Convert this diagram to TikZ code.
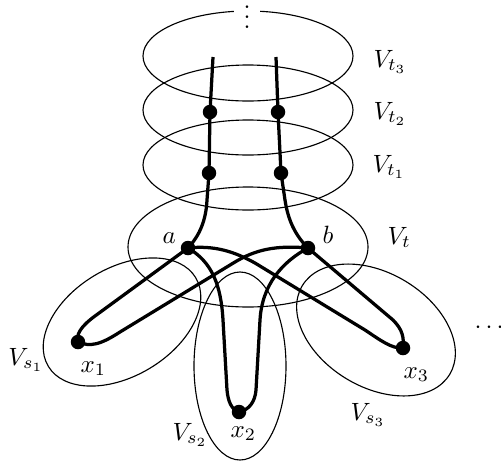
\documentclass[tikz,border=0pt]{standalone}
\begin{document}
\begin{tikzpicture}[x=0.4pt,y=-0.4pt,
  region/.style={line width=0.45pt},
  walk/.style={line width=1.3pt},
  dot/.style={circle,fill=black,inner sep=0pt,minimum size=5.8pt},
  lbl/.style={anchor=base west,inner sep=0pt}]
\useasboundingbox (0,0) rectangle (501,461);
% regions
\draw[region] (248,56) ellipse [x radius=105,y radius=45];
\draw[region] (248,110) ellipse [x radius=105,y radius=45];
\draw[region] (248,165) ellipse [x radius=105,y radius=45];
\draw[region] (248,247) ellipse [x radius=120,y radius=60];
\draw[region,rotate around={31:(122,322)}] (122,322) ellipse [x radius=86,y radius=54];
\draw[region,rotate around={-31:(376,330)}] (376,330) ellipse [x radius=86,y radius=57];
\draw[region] (240,366) ellipse [x radius=46,y radius=94];
\node[fill=white,inner xsep=4pt,inner ysep=0.5pt,text height=9.3pt,text depth=0pt] (vd) at (247,17) {$\vdots$};
% vertices
\node[dot] (a) at (188,248) {};
\node[dot] (b) at (308,248) {};
\node[dot] (a1) at (209,173) {};
\node[dot] (a2) at (210,112) {};
\node[dot] (b1) at (281,173) {};
\node[dot] (b2) at (278,112) {};
\node[dot] (x1) at (78,342) {};
\node[dot] (x2) at (239,412) {};
\node[dot] (x3) at (403,348) {};
\coordinate (ta) at (213,57);
\coordinate (tb) at (276,57);
% paths
\draw[walk] (a.center) .. controls (200,235) and (206,220) .. (207,200) -- (a1.center) -- (a2.center) -- (ta);
\draw[walk] (b.center) .. controls (295,235) and (288,220) .. (285,200) -- (b1.center) -- (b2.center) -- (tb);
\draw[walk] (a.center) -- (95,316) .. controls (80,327) and (76,335) .. (x1.center);
\draw[walk] (b.center) .. controls (275,245) and (255,250) .. (235,262) -- (120,332) .. controls (100,345) and (90,347) .. (x1.center);
\draw[walk] (a.center) .. controls (215,245) and (235,252) .. (255,263) -- (365,330) .. controls (380,340) and (392,349) .. (x3.center);
\draw[walk] (b.center) -- (393,320) .. controls (403,330) and (404,338) .. (x3.center);
\draw[walk] (a.center) .. controls (212,262) and (221,285) .. (223,320) -- (227,390) .. controls (228,402) and (232,410) .. (x2.center);
\draw[walk] (b.center) .. controls (282,262) and (262,285) .. (260,320) -- (256,390) .. controls (255,402) and (249,410) .. (x2.center);
% labels
\node[lbl] (lt3) at (373,67) {$V_{t_3}$};
\node[lbl] (lt2) at (373,119) {$V_{t_2}$};
\node[lbl] (lt1) at (372,172) {$V_{t_1}$};
\node[lbl] (lt) at (387,244) {$V_t$};
\node[lbl] (la) at (162,243) {$a$};
\node[lbl] (lb) at (322,243) {$b$};
\node[lbl] (ls1) at (8,365) {$V_{s_1}$};
\node[lbl] (lx1) at (80,372) {$x_1$};
\node[lbl] (ls2) at (172,440) {$V_{s_2}$};
\node[lbl] (lx2) at (230,437) {$x_2$};
\node[lbl] (ls3) at (350,420) {$V_{s_3}$};
\node[lbl] (lx3) at (403,378) {$x_3$};
\node[lbl] (dts) at (474,333) {$\cdots$};
\end{tikzpicture}
\end{document}
